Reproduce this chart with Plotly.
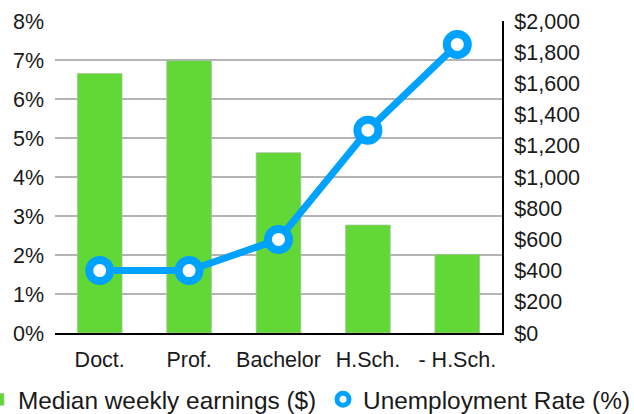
import plotly.graph_objects as go

categories = ["Doct.", "Prof.", "Bachelor", "H.Sch.", "- H.Sch."]
earnings = [1664, 1745, 1156, 692, 504]
unemployment = [1.6, 1.6, 2.4, 5.2, 7.4]
pct_ticks = [0, 1, 2, 3, 4, 5, 6, 7, 8]
dollar_ticks = [0, 200, 400, 600, 800, 1000, 1200, 1400, 1600, 1800, 2000]

BLUE = "#00A2FF"
GREEN = "#61D836"
FONT = "Liberation Sans, Arial, Helvetica, sans-serif"
TXT = "#1a1a1a"

fig = go.Figure()
fig.add_trace(go.Bar(
    x=categories, y=earnings, name="Median weekly earnings ($)",
    marker=dict(color=GREEN, line=dict(color="rgba(170,190,160,0.7)", width=1)),
    yaxis="y", legend="legend",
))
fig.add_trace(go.Scatter(
    x=[None], y=[None], mode="markers", name="Unemployment Rate (%)",
    marker=dict(size=12, color="white", line=dict(color=BLUE, width=5)),
    yaxis="y2", showlegend=True, legend="legend2",
))
fig.add_trace(go.Scatter(
    x=categories, y=unemployment, mode="lines+markers",
    name="Unemployment Rate (%)", showlegend=False,
    line=dict(color=BLUE, width=7),
    marker=dict(size=21, color="white", line=dict(color=BLUE, width=8)),
    yaxis="y2",
))

legend_common = dict(orientation="h", xanchor="left", yanchor="top",
                     font=dict(size=24.4, color=TXT), bgcolor="rgba(0,0,0,0)")

fig.update_layout(
    width=634, height=414,
    margin=dict(l=55, r=132, t=21, b=81, autoexpand=False),
    paper_bgcolor="white", plot_bgcolor="white",
    font=dict(family=FONT, size=21.5, color=TXT),
    bargap=0.5,
    showlegend=True,
    legend=dict(x=-0.1723, y=-0.141, **legend_common),
    legend2=dict(x=0.5996, y=-0.141, **legend_common),
    xaxis=dict(showline=True, linecolor="black", linewidth=2, ticks="",
               showgrid=False, ticklabelstandoff=6),
    yaxis=dict(side="right", range=[0, 2000], tickmode="array",
               tickvals=dollar_ticks, ticktext=[f"${v:,}" for v in dollar_ticks],
               showgrid=False, zeroline=False,
               showline=True, linecolor="black", linewidth=2, ticks="",
               ticklabelstandoff=6),
    yaxis2=dict(side="left", overlaying="y", range=[0, 8], tickmode="array",
                tickvals=pct_ticks, ticktext=[f"{v}%" for v in pct_ticks],
                showgrid=True, gridcolor="#b4b4b4", gridwidth=2,
                zeroline=False, showline=False, ticks="", ticklabelstandoff=10),
)

fig.write_html("out.html")
